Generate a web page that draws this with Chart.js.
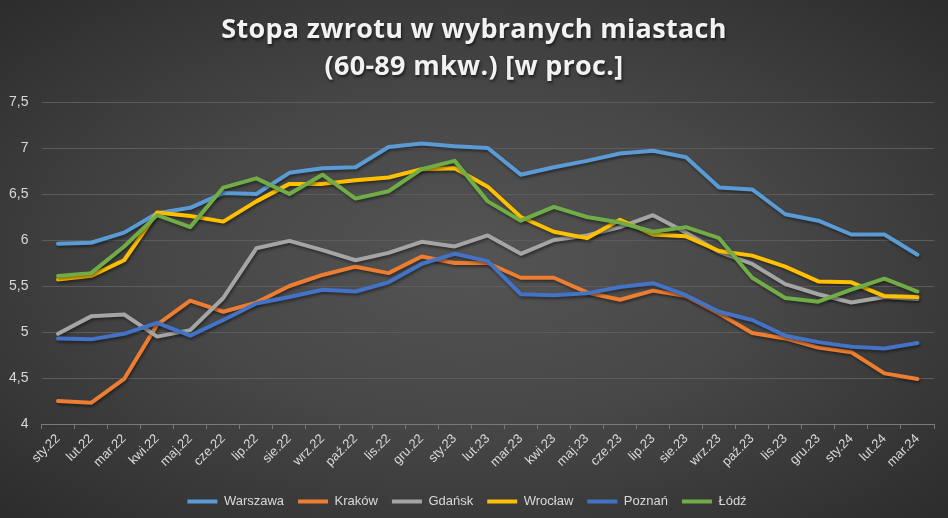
<!DOCTYPE html>
<html>
<head>
<meta charset="utf-8">
<script src="https://cdn.jsdelivr.net/npm/chart.js@4.4.0/dist/chart.umd.min.js"></script>
<style>
    html, body {
        margin: 0;
        padding: 0;
    }
    body {
        width: 948px;
        height: 518px;
        overflow: hidden;
        background: radial-gradient(ellipse at 50% 50%, #545454 0%, #474747 45%, #2c2c2c 100%);
    }
    #wrap {
        width: 948px;
        height: 518px;
    }
</style>
</head>
<body>
<div id="wrap"><canvas id="grafica" width="948" height="518"></canvas></div>
<script>
const miesiace = ["sty.22", "lut.22", "mar.22", "kwi.22", "maj.22", "cze.22", "lip.22", "sie.22", "wrz.22",
    "paź.22", "lis.22", "gru.22", "sty.23", "lut.23", "mar.23", "kwi.23", "maj.23", "cze.23", "lip.23",
    "sie.23", "wrz.23", "paź.23", "lis.23", "gru.23", "sty.24", "lut.24", "mar.24"];

const warszawa = [5.96, 5.97, 6.08, 6.29, 6.35, 6.51, 6.50, 6.73, 6.78, 6.79, 7.01, 7.05, 7.02, 7.00,
    6.71, 6.79, 6.86, 6.94, 6.97, 6.90, 6.57, 6.55, 6.28, 6.21, 6.06, 6.06, 5.84];
const krakow = [4.25, 4.23, 4.49, 5.08, 5.34, 5.22, 5.32, 5.50, 5.62, 5.71, 5.64, 5.82, 5.75, 5.75,
    5.59, 5.59, 5.43, 5.35, 5.45, 5.39, 5.20, 4.99, 4.93, 4.83, 4.78, 4.55, 4.49];
const gdansk = [4.98, 5.17, 5.19, 4.95, 5.02, 5.37, 5.91, 5.99, 5.89, 5.78, 5.86, 5.98, 5.93, 6.05,
    5.85, 6.00, 6.05, 6.14, 6.27, 6.08, 5.87, 5.74, 5.52, 5.41, 5.32, 5.38, 5.36];
const wroclaw = [5.57, 5.61, 5.78, 6.30, 6.26, 6.20, 6.42, 6.61, 6.61, 6.65, 6.68, 6.77, 6.78, 6.58,
    6.25, 6.09, 6.02, 6.22, 6.06, 6.04, 5.88, 5.83, 5.71, 5.55, 5.54, 5.39, 5.38];
const poznan = [4.93, 4.92, 4.98, 5.10, 4.96, 5.13, 5.31, 5.38, 5.46, 5.44, 5.54, 5.74, 5.85, 5.77,
    5.41, 5.40, 5.42, 5.49, 5.53, 5.40, 5.22, 5.13, 4.96, 4.89, 4.84, 4.82, 4.88];
const lodz = [5.61, 5.64, 5.93, 6.27, 6.14, 6.57, 6.67, 6.50, 6.71, 6.45, 6.53, 6.77, 6.86, 6.42,
    6.21, 6.36, 6.25, 6.19, 6.09, 6.14, 6.02, 5.59, 5.37, 5.33, 5.46, 5.58, 5.44];

const miasta = ["Warszawa", "Kraków", "Gdańsk", "Wrocław", "Poznań", "Łódź"];
const serie = [warszawa, krakow, gdansk, wroclaw, poznan, lodz];
const kolory = ["#5B9BD5", "#ED7D31", "#A5A5A5", "#FFC000", "#4472C4", "#70AD47"];

const fuente = "'Liberation Sans Narrow', 'Liberation Sans', sans-serif";

// cien pod liniami jak w Excelu
const sombra = {
    id: "sombra",
    beforeDatasetsDraw(chart) {
        const ctx = chart.ctx;
        ctx.save();
        ctx.shadowColor = "rgba(0,0,0,0.45)";
        ctx.shadowBlur = 3;
        ctx.shadowOffsetX = 1;
        ctx.shadowOffsetY = 2;
    },
    afterDatasetsDraw(chart) {
        chart.ctx.restore();
    }
};

// tytul z rozstrzelonymi literami i cieniem
const titulo = {
    id: "titulo",
    afterDraw(chart) {
        const ctx = chart.ctx;
        ctx.save();
        ctx.font = "bold 27px 'Open Sans', sans-serif";
        ctx.letterSpacing = "0.3px";
        ctx.fillStyle = "#f2f2f2";
        ctx.textAlign = "center";
        ctx.textBaseline = "middle";
        ctx.shadowColor = "rgba(0,0,0,0.6)";
        ctx.shadowBlur = 3;
        ctx.shadowOffsetX = 1;
        ctx.shadowOffsetY = 2;
        ctx.fillText("Stopa zwrotu w wybranych miastach", 474, 30);
        ctx.fillText("(60-89 mkw.) [w proc.]", 474, 67);
        ctx.restore();
    }
};

const datasets = miasta.map((nombre, i) => ({
    label: nombre,
    data: serie[i],
    borderColor: kolory[i],
    backgroundColor: kolory[i],
    borderWidth: 4,
    borderCapStyle: "round",
    borderJoinStyle: "round",
    pointRadius: 0,
    pointHoverRadius: 0,
    pointStyle: "line",
    tension: 0,
    fill: false,
    order: miasta.length - i
}));

const config = {
    type: "line",
    data: {
        labels: miesiace,
        datasets: datasets
    },
    options: {
        responsive: false,
        animation: false,
        devicePixelRatio: 1,
        layout: {
            padding: { top: 102, left: 0, right: 14, bottom: 0 }
        },
        plugins: {
            title: { display: false },
            tooltip: { enabled: false },
            legend: {
                position: "bottom",
                labels: {
                    usePointStyle: true,
                    pointStyle: "line",
                    pointStyleWidth: 30,
                    padding: 14,
                    color: "#d9d9d9",
                    font: { family: fuente, size: 13 },
                    sort: (a, b) => a.datasetIndex - b.datasetIndex
                }
            }
        },
        scales: {
            x: {
                offset: true,
                grid: {
                    offset: true,
                    drawOnChartArea: false,
                    drawTicks: true,
                    tickLength: 5,
                    color: "#7a7a7a"
                },
                border: { color: "#7a7a7a", width: 1 },
                ticks: {
                    color: "#d9d9d9",
                    font: { family: fuente, size: 13 },
                    minRotation: 45,
                    maxRotation: 45,
                    padding: 2,
                    autoSkip: false
                },
                afterFit(scale) {
                    scale.height = 57;
                }
            },
            y: {
                min: 4,
                max: 7.5,
                grid: {
                    color: "#5c5c5c",
                    drawTicks: false
                },
                border: { display: false },
                ticks: {
                    stepSize: 0.5,
                    color: "#d9d9d9",
                    font: { family: fuente, size: 14 },
                    padding: 13,
                    callback: (v) => String(v).replace(".", ",")
                },
                afterFit(scale) {
                    scale.width = 41.5;
                }
            }
        }
    },
    plugins: [sombra, titulo]
};

ChartPrincipal = new Chart(document.getElementById("grafica"), config);
</script>
</body>
</html>
